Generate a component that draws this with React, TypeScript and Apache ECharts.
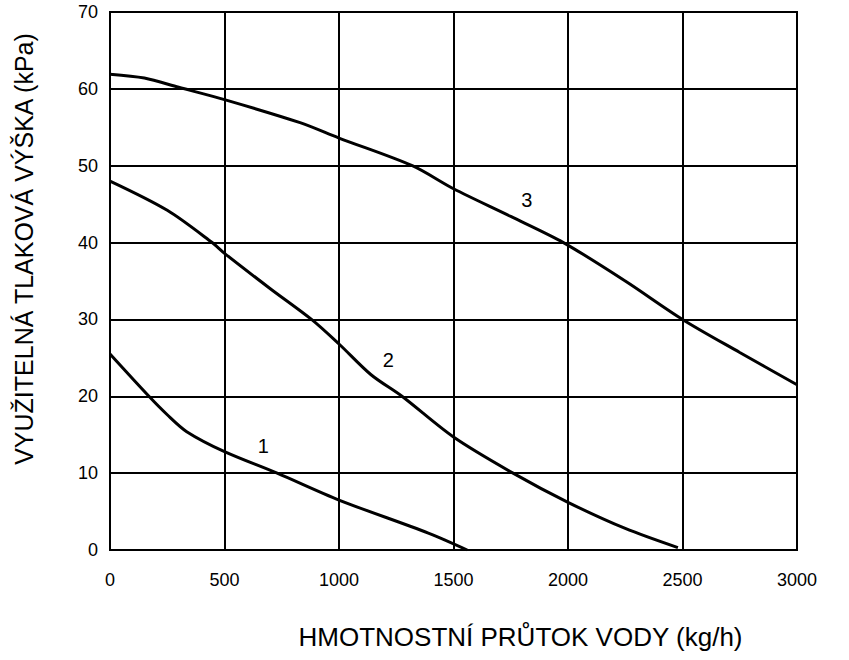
import React, { useEffect, useRef } from "react";
import * as echarts from "echarts";

// Curve data: [flow kg/h, head kPa]
const curve1: [number, number][] = [
  [0, 25.5], [170, 20], [250, 17.6], [335, 15.4], [500, 12.8], [730, 10],
  [1000, 6.5], [1390, 2.2], [1560, 0],
];
const curve2: [number, number][] = [
  [0, 48], [250, 44.2], [446, 40], [500, 38.6], [700, 34], [880, 30],
  [1000, 26.8], [1140, 22.8], [1275, 20], [1500, 14.7], [1760, 10],
  [2000, 6.2], [2250, 2.8], [2480, 0.3],
];
const curve3: [number, number][] = [
  [0, 61.9], [150, 61.4], [300, 60.2], [500, 58.6], [830, 55.6], [1000, 53.6],
  [1320, 50], [1500, 47], [1750, 43.4], [1980, 40], [2250, 35], [2500, 30],
  [2750, 25.7], [3000, 21.5],
];
const curveNames = ["1", "2", "3"];
const curveLabelCoords: [number, number][] = [
  [670, 13.5],
  [1215, 24.7],
  [1820, 45.5],
];

const xAxisTitle = "HMOTNOSTNÍ PRŮTOK VODY (kg/h)";
const yAxisTitle = "VYUŽITELNÁ TLAKOVÁ VÝŠKA (kPa)";
const xMin = 0, xMax = 3000, xStep = 500;
const yMin = 0, yMax = 70, yStep = 10;

const FONT = "'Liberation Sans', Arial, sans-serif";

export default function App() {
  const ref = useRef<HTMLDivElement>(null);
  useEffect(() => {
    document.body.style.margin = "0";
    if (!ref.current) return;
    const chart = echarts.init(ref.current, null, { renderer: "svg" });
    const curves = [curve1, curve2, curve3];
    chart.setOption({
      animation: false,
      backgroundColor: "#fff",
      grid: {
        left: 110,
        right: 52,
        top: 12,
        bottom: 110,
        show: true,
        borderColor: "#000",
        borderWidth: 2,
        containLabel: false,
      },
      xAxis: {
        type: "value",
        min: xMin,
        max: xMax,
        interval: xStep,
        name: xAxisTitle,
        nameLocation: "middle",
        nameGap: 74,
        nameTextStyle: {
          color: "#000",
          fontSize: 26,
          fontFamily: FONT,
          padding: [0, 0, 0, 134],
        },
        axisLine: { show: true, lineStyle: { color: "#000", width: 2 } },
        axisTick: { show: false },
        axisLabel: {
          color: "#000",
          fontSize: 18,
          fontFamily: FONT,
          margin: 21,
          formatter: (v: number) => String(v),
        },
        splitLine: { show: true, lineStyle: { color: "#000", width: 2 } },
      },
      yAxis: {
        type: "value",
        min: yMin,
        max: yMax,
        interval: yStep,
        name: yAxisTitle,
        nameLocation: "middle",
        nameGap: 74,
        nameTextStyle: {
          color: "#000",
          fontSize: 25,
          fontFamily: FONT,
          padding: [0, 0, 0, 64],
        },
        axisLine: { show: true, lineStyle: { color: "#000", width: 2 } },
        axisTick: { show: false },
        axisLabel: {
          color: "#000",
          fontSize: 18,
          fontFamily: FONT,
          margin: 12,
        },
        splitLine: { show: true, lineStyle: { color: "#000", width: 2 } },
      },
      series: curves.map((c, i) => ({
        type: "line",
        name: curveNames[i],
        data: c,
        smooth: 0.3,
        symbol: "none",
        lineStyle: { color: "#000", width: 3 },
        markPoint: {
          symbol: "circle",
          symbolSize: 1,
          itemStyle: { color: "transparent" },
          label: {
            show: true,
            formatter: curveNames[i],
            color: "#000",
            fontSize: 20,
            fontFamily: FONT,
          },
          data: [{ coord: curveLabelCoords[i] }],
        },
      })),
    });
    return () => chart.dispose();
  }, []);
  return <div ref={ref} style={{ width: 849, height: 660 }} />;
}
